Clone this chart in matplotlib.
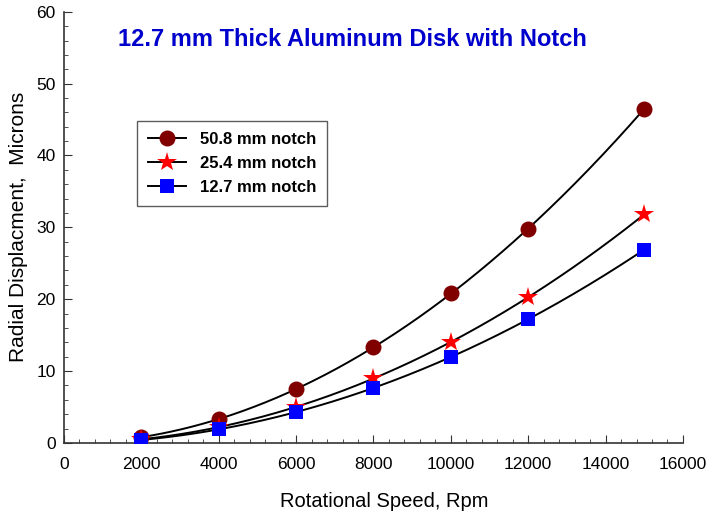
import numpy as np
import matplotlib
matplotlib.use("Agg")
import matplotlib.pyplot as plt
from matplotlib.ticker import MultipleLocator

plt.rcParams['font.family'] = ['Liberation Sans', 'DejaVu Sans']

speed = [2000, 4000, 6000, 8000, 10000, 12000, 15000]
notch_508 = [0.8, 3.3, 7.5, 13.3, 20.8, 29.8, 46.5]
notch_254 = [0.5, 2.2, 5.0, 9.0, 14.0, 20.3, 31.8]
notch_127 = [0.4, 1.9, 4.3, 7.6, 12.0, 17.2, 26.9]
labels = ["50.8 mm notch", "25.4 mm notch", "12.7 mm notch"]
title = "12.7 mm Thick Aluminum Disk with Notch"

fig = plt.figure(figsize=(7.07, 5.12), dpi=100)
ax = fig.add_axes([0.0905, 0.135, 0.8755, 0.842])

styles = [
    dict(marker='o', color='#800000', ms=11.5),
    dict(marker='*', color='#ff0000', ms=15),
    dict(marker='s', color='#0000ff', ms=10.5),
]
x = np.array(speed, dtype=float)
xs = np.linspace(x.min(), x.max(), 300)
handles = []
for ys, st, lab in zip([notch_508, notch_254, notch_127], styles, labels):
    c = np.polyfit(x, np.array(ys), 3)
    ax.plot(xs, np.polyval(c, xs), color='black', lw=1.4, zorder=2)
    ax.plot(x, ys, linestyle='none', marker=st['marker'], color=st['color'],
            markersize=st['ms'], markeredgewidth=0, zorder=3)
    h, = ax.plot([], [], color='black', lw=1.4, marker=st['marker'],
                 markerfacecolor=st['color'], markeredgewidth=0,
                 markersize=st['ms'], label=lab)
    handles.append(h)

ax.set_xlim(0, 16000)
ax.set_ylim(0, 60)
ax.xaxis.set_major_locator(MultipleLocator(2000))
ax.xaxis.set_minor_locator(MultipleLocator(400))
ax.yaxis.set_major_locator(MultipleLocator(10))
ax.yaxis.set_minor_locator(MultipleLocator(2))
ax.tick_params(which='both', direction='in', labelsize=12.5, colors='#333333', labelcolor='black')
ax.tick_params(axis='x', which='major', length=6, pad=10)
ax.tick_params(axis='y', which='major', length=6, pad=6)
ax.tick_params(which='minor', length=3)
for s in ['top', 'right']:
    ax.spines[s].set_visible(False)
for s in ['left', 'bottom']:
    ax.spines[s].set_color('#333333')
    ax.spines[s].set_linewidth(1.2)

ax.set_xlabel("Rotational Speed, Rpm", fontsize=14.5, labelpad=13)
ax.xaxis.set_label_coords(0.518, -0.115)
ax.set_ylabel("Radial Displacment,  Microns", fontsize=15, labelpad=6)
ax.text(7450, 56.2, title, color='#0000cc', fontsize=17, fontweight='bold',
        ha='center', va='center')

leg = ax.legend(handles=handles, loc='upper left', bbox_to_anchor=(0.1046, 0.7665),
                frameon=True, fancybox=False, edgecolor='#333333',
                prop={'weight': 'bold', 'size': 12}, handlelength=2.3,
                borderpad=0.65, labelspacing=0.55, handletextpad=0.8)
leg.get_frame().set_linewidth(1.0)

fig.savefig("out.png", dpi=100)
